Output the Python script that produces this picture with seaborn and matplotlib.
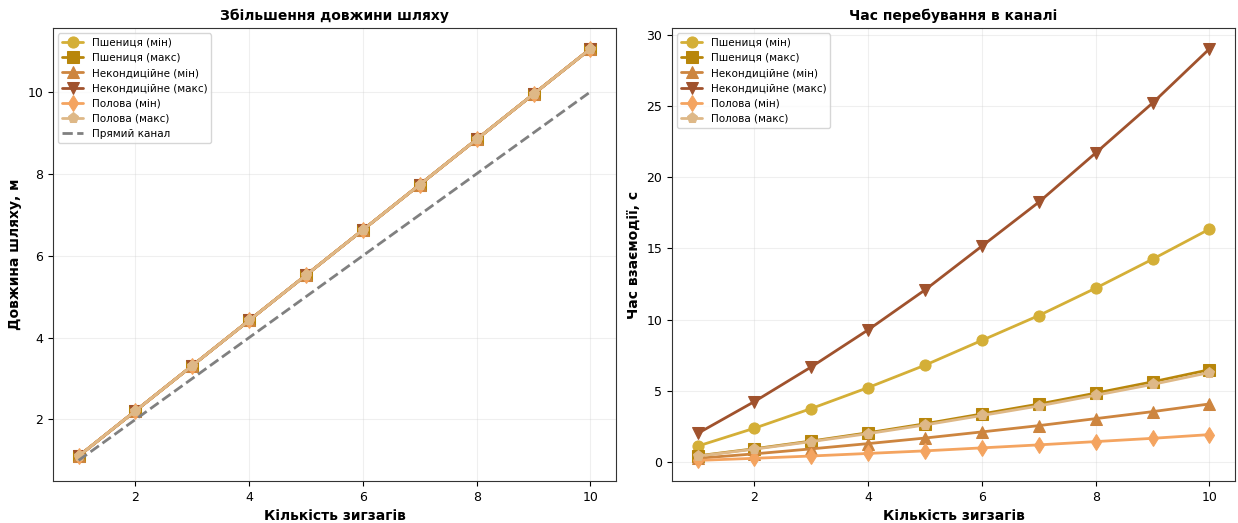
import matplotlib
matplotlib.use("Agg")
import matplotlib.pyplot as plt
import seaborn as sns
import numpy as np
import pandas as pd

zigzags = [1, 2, 3, 4, 5, 6, 7, 8, 9, 10]

# Path length (all materials identical)
path_len = [1.105, 2.21, 3.315, 4.42, 5.525, 6.63, 7.735, 8.84, 9.945, 11.05]
straight = [1, 2, 3, 4, 5, 6, 7, 8, 9, 10]

# Interaction time
wheat_min = [1.14, 2.40, 3.78, 5.25, 6.82, 8.56, 10.30, 12.22, 14.25, 16.36]
wheat_max = [0.46, 0.96, 1.50, 2.08, 2.71, 3.40, 4.09, 4.86, 5.65, 6.50]
nonstd_min = [0.29, 0.60, 0.95, 1.32, 1.71, 2.14, 2.58, 3.07, 3.56, 4.10]
nonstd_max = [2.03, 4.27, 6.70, 9.30, 12.10, 15.17, 18.25, 21.70, 25.20, 29.00]
chaff_min = [0.14, 0.29, 0.45, 0.63, 0.81, 1.02, 1.23, 1.46, 1.69, 1.95]
chaff_max = [0.44, 0.93, 1.46, 2.02, 2.63, 3.29, 3.96, 4.71, 5.47, 6.30]

labels = ["Пшениця (мін)", "Пшениця (макс)", "Некондиційне (мін)",
          "Некондиційне (макс)", "Полова (мін)", "Полова (макс)"]
colors = ["#D4AF37", "#B8860B", "#CD853F", "#A0522D", "#F4A460", "#DEB887"]
markers = ["o", "s", "^", "v", "d", "p"]
times = [wheat_min, wheat_max, nonstd_min, nonstd_max, chaff_min, chaff_max]

sns.set_style("ticks")
plt.rcParams["font.family"] = ["DejaVu Sans"]
for k in ["text.color", "axes.labelcolor", "xtick.color", "ytick.color"]:
    plt.rcParams[k] = "black"

fig, (ax1, ax2) = plt.subplots(1, 2, figsize=(12.38, 5.23), dpi=100)
fig.subplots_adjust(left=0.0428, right=0.9976, bottom=0.0803, top=0.946, wspace=0.0995)

for lab, col, mk in zip(labels, colors, markers):
    sns.lineplot(x=zigzags, y=path_len, ax=ax1, color=col, marker=mk,
                 markersize=8, linewidth=2, label=lab, markeredgecolor=col)
sns.lineplot(x=zigzags, y=straight, ax=ax1, color="gray", linestyle="--",
             linewidth=2, label="Прямий канал")

for lab, col, mk, vals in zip(labels, colors, markers, times):
    sns.lineplot(x=zigzags, y=vals, ax=ax2, color=col, marker=mk,
                 markersize=8, linewidth=2, label=lab, markeredgecolor=col)

ax1.set_title("Збільшення довжини шляху", fontsize=10, fontweight="bold")
ax1.set_xlabel("Кількість зигзагів", fontsize=10, fontweight="bold")
ax1.set_ylabel("Довжина шляху, м", fontsize=10, fontweight="bold")
ax2.set_title("Час перебування в каналі", fontsize=10, fontweight="bold")
ax2.set_xlabel("Кількість зигзагів", fontsize=10, fontweight="bold")
ax2.set_ylabel("Час взаємодії, с", fontsize=10, fontweight="bold")

for ax in (ax1, ax2):
    ax.grid(True, alpha=0.3)
    ax.legend(loc="upper left", fontsize=7.5, framealpha=0.8)
    ax.tick_params(labelsize=9)
    ax.set_xticks([2, 4, 6, 8, 10])
    for s in ax.spines.values():
        s.set_color("#333333")

fig.savefig("out.png", dpi=100)
